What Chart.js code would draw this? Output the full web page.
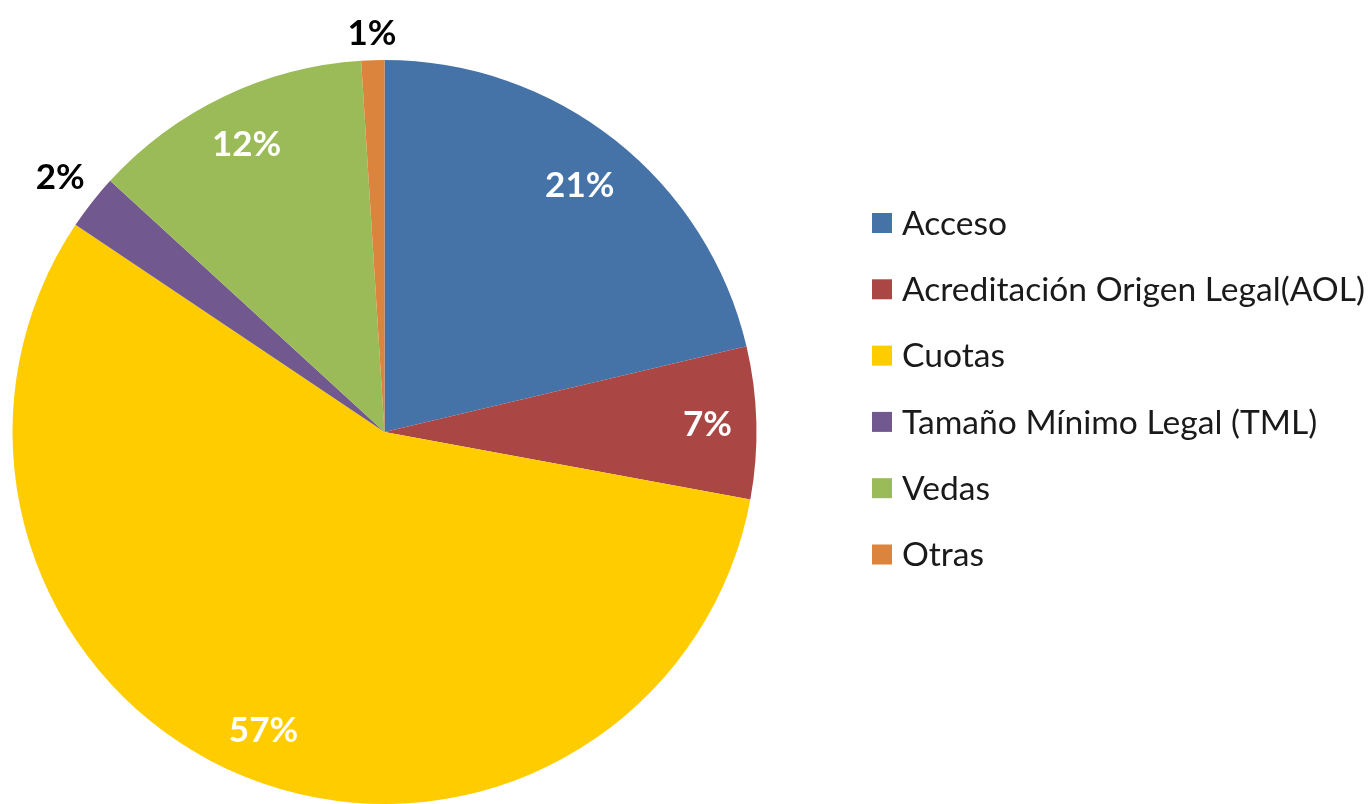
<!DOCTYPE html>
<html>
<head>
<meta charset="utf-8">
<script src="https://cdn.jsdelivr.net/npm/chart.js@4/dist/chart.umd.min.js"></script>
<style>
  html, body { margin: 0; padding: 0; background: #ffffff; }
  #wrap { width: 1369px; height: 804px; position: relative; }
</style>
</head>
<body>
<div id="wrap"><canvas id="c" width="1369" height="804"></canvas></div>
<script>
// ---- data ----
const categories = ['Acceso', 'Acreditación Origen Legal(AOL)', 'Cuotas', 'Tamaño Mínimo Legal (TML)', 'Vedas', 'Otras'];
const values = [21.3, 6.6, 56.5, 2.4, 12.2, 1.0];
const pctLabels = ['21%', '7%', '57%', '2%', '12%', '1%'];
const colors = ['#4572A7', '#AA4643', '#FFCC00', '#71588F', '#9BBB59', '#DB843D'];

// ---- percentage labels (inside end / outside end like the original) ----
const pctLabelPlugin = {
  id: 'pctLabels',
  afterDatasetsDraw(chart) {
    const ctx = chart.ctx;
    const meta = chart.getDatasetMeta(0);
    ctx.save();
    ctx.font = 'bold 35px Lato';
    ctx.textAlign = 'center';
    ctx.textBaseline = 'middle';
    meta.data.forEach((arc, i) => {
      const p = arc.getProps(['x', 'y', 'startAngle', 'endAngle', 'outerRadius'], true);
      const mid = (p.startAngle + p.endAngle) / 2;
      const dx = Math.cos(mid), dy = Math.sin(mid);
      const text = pctLabels[i];
      const w = ctx.measureText(text).width;
      const h = 30;
      const proj = Math.abs(dx) * w / 2 + Math.abs(dy) * h / 2;
      const outside = values[i] < 5;
      let r;
      if (outside) {
        r = p.outerRadius + 12 + proj;
        ctx.fillStyle = '#000000';
      } else {
        r = p.outerRadius - 24 - proj;
        ctx.fillStyle = '#ffffff';
      }
      ctx.fillText(text, p.x + dx * r, p.y + dy * r + 1);
    });
    ctx.restore();
  }
};

// ---- legend drawn at the right, like the original ----
const sideLegendPlugin = {
  id: 'sideLegend',
  afterDraw(chart) {
    const ctx = chart.ctx;
    ctx.save();
    // fit the font so the longest label spans like the original
    let size = 30;
    ctx.font = size + 'px Lato';
    const longest = Math.max(...categories.map(t => ctx.measureText(t).width));
    size = Math.min(34, size * 463 / longest);
    ctx.font = size + 'px Lato';
    ctx.textAlign = 'left';
    ctx.textBaseline = 'middle';
    const boxX = 872, box = 20, textX = 902, y0 = 223, step = 66.3;
    categories.forEach((cat, i) => {
      const cy = y0 + i * step;
      ctx.fillStyle = colors[i];
      ctx.fillRect(boxX, cy - box / 2, box, box);
      ctx.fillStyle = '#1a1a1a';
      ctx.fillText(cat, textX, cy + 1);
    });
    ctx.restore();
  }
};

new Chart(document.getElementById('c'), {
  type: 'pie',
  data: {
    labels: categories,
    datasets: [{
      data: values,
      backgroundColor: colors,
      borderWidth: 0
    }]
  },
  options: {
    responsive: false,
    devicePixelRatio: 1,
    animation: false,
    layout: { padding: { left: 12, right: 612, top: 60, bottom: 0 } },
    plugins: {
      legend: { display: false },
      tooltip: { enabled: false }
    }
  },
  plugins: [pctLabelPlugin, sideLegendPlugin]
});
</script>
</body>
</html>
